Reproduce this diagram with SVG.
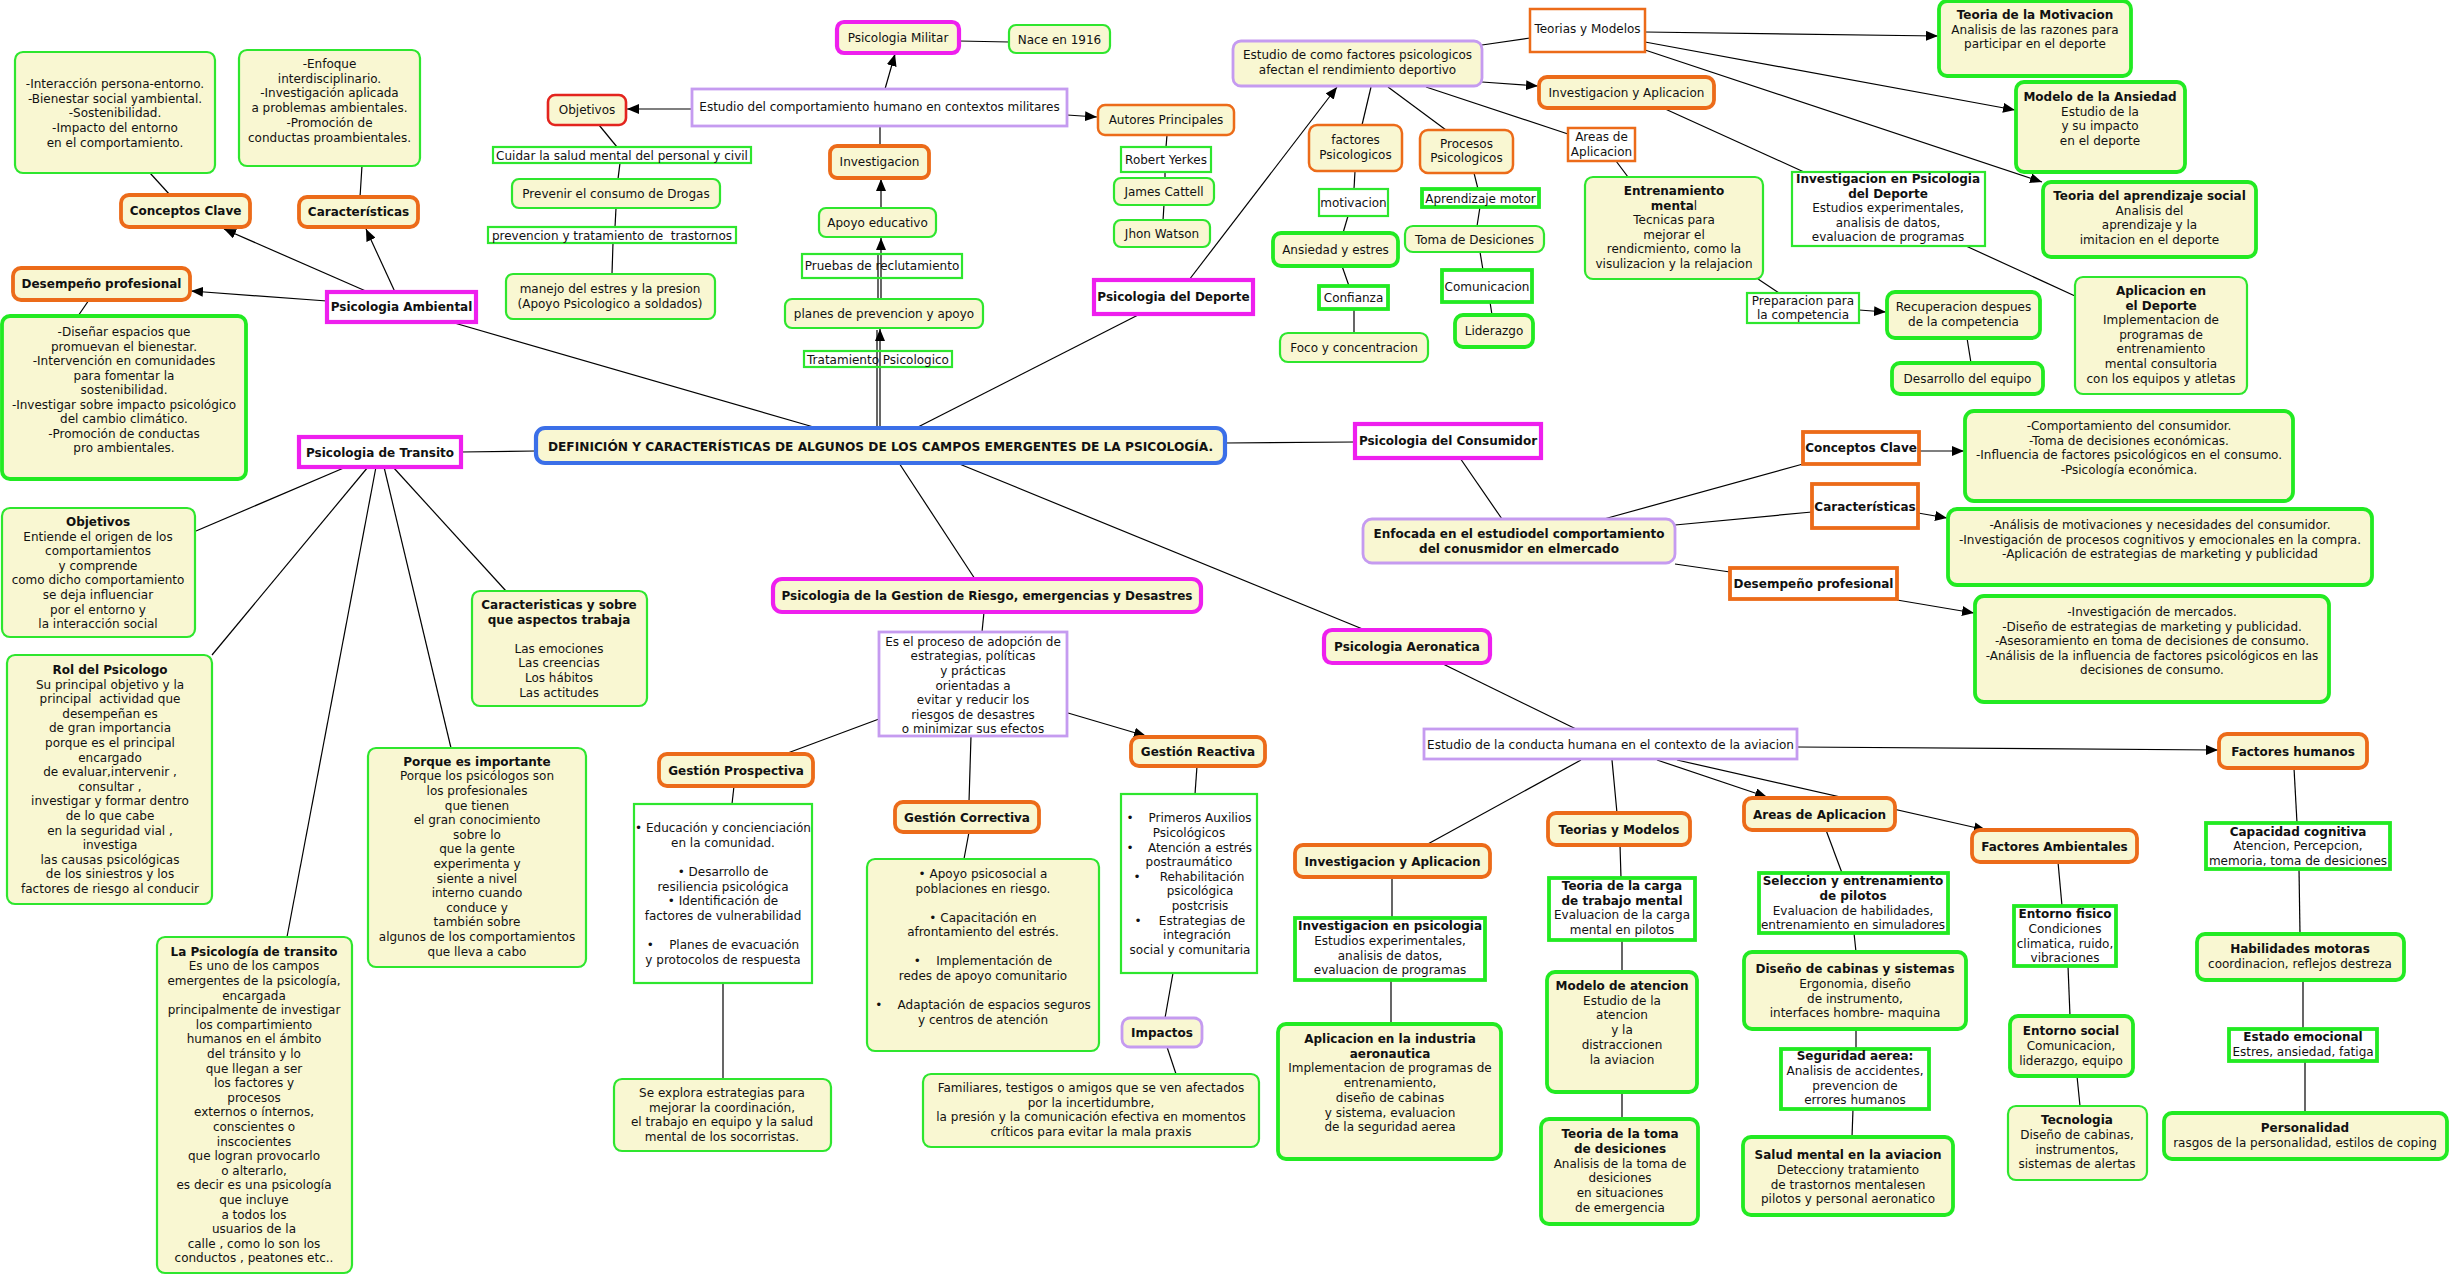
<svg xmlns="http://www.w3.org/2000/svg" width="2449" height="1275" viewBox="0 0 2449 1275">
<style>
.y{fill:#f9f7d2}.w{fill:#fff}.n{fill:none}
.g{stroke:#2ee62e;stroke-width:2.2}.G{stroke:#22ea22;stroke-width:3.8}
.o{stroke:#ec6b19;stroke-width:2.5}.O{stroke:#ec6b19;stroke-width:3.8}
.M{stroke:#ee1fee;stroke-width:4.2}.L{stroke:#c59bf0;stroke-width:2.8}
.B{stroke:#3b6fe8;stroke-width:4.2}.R{stroke:#e3241e;stroke-width:2.6}
text{font-family:"DejaVu Sans",Verdana,sans-serif;font-size:12px;fill:#111;text-anchor:middle}
.b{font-weight:bold}.p{white-space:pre}.tt{font-size:12.2px}
.c{stroke:#000;stroke-width:1.2;fill:none}.a{marker-end:url(#ah)}
</style>
<defs>
<marker id="ah" viewBox="0 0 12 10" refX="12" refY="5" markerWidth="12" markerHeight="10" markerUnits="userSpaceOnUse" orient="auto"><path d="M0,0L12,5L0,10z" fill="#000"/></marker>
</defs>
<rect width="2449" height="1275" fill="#fff"/>
<g id="connectors">
<line class="c a" x1="368" y1="292" x2="224" y2="229"/>
<line class="c a" x1="395" y1="292" x2="366" y2="229"/>
<line class="c a" x1="327" y1="301" x2="191" y2="291"/>
<line class="c" x1="170" y1="195" x2="150" y2="173"/>
<line class="c" x1="360" y1="197" x2="362" y2="166"/>
<line class="c" x1="89" y1="300" x2="78" y2="316"/>
<line class="c" x1="451" y1="322" x2="817" y2="428"/>
<line class="c" x1="461" y1="452" x2="536" y2="451"/>
<line class="c" x1="346" y1="467" x2="196" y2="531"/>
<line class="c" x1="368" y1="467" x2="212" y2="655"/>
<line class="c" x1="393" y1="467" x2="506" y2="591"/>
<line class="c" x1="384" y1="467" x2="451" y2="748"/>
<line class="c" x1="376" y1="467" x2="287" y2="937"/>
<line class="c a" x1="880" y1="428" x2="880" y2="329"/>
<line class="c" x1="877" y1="428" x2="877" y2="330"/>
<line class="c a" x1="881" y1="299" x2="881" y2="238"/>
<line class="c" x1="878" y1="299" x2="878" y2="254"/>
<line class="c a" x1="881" y1="208" x2="881" y2="179"/>
<line class="c" x1="880" y1="126" x2="880" y2="146"/>
<line class="c a" x1="885" y1="89" x2="895" y2="54"/>
<line class="c" x1="959" y1="41" x2="1009" y2="42"/>
<line class="c a" x1="692" y1="109" x2="627" y2="109"/>
<line class="c" x1="599" y1="125" x2="617" y2="147"/>
<line class="c" x1="620" y1="163" x2="618" y2="179"/>
<line class="c" x1="616" y1="208" x2="615" y2="227"/>
<line class="c" x1="613" y1="243" x2="612" y2="274"/>
<line class="c a" x1="1067" y1="115" x2="1097" y2="117"/>
<line class="c" x1="1167" y1="135" x2="1166" y2="147"/>
<line class="c" x1="1165" y1="172" x2="1165" y2="178"/>
<line class="c" x1="1164" y1="205" x2="1163" y2="220"/>
<line class="c" x1="916" y1="428" x2="1140" y2="314"/>
<line class="c a" x1="1189" y1="280" x2="1337" y2="87"/>
<line class="c" x1="1482" y1="45" x2="1530" y2="38"/>
<line class="c a" x1="1482" y1="82" x2="1538" y2="86"/>
<line class="c" x1="1371" y1="87" x2="1362" y2="125"/>
<line class="c" x1="1388" y1="87" x2="1446" y2="130"/>
<line class="c" x1="1426" y1="87" x2="1568" y2="134"/>
<line class="c" x1="1355" y1="171" x2="1354" y2="189"/>
<line class="c" x1="1348" y1="216" x2="1343" y2="233"/>
<line class="c" x1="1342" y1="266" x2="1349" y2="286"/>
<line class="c" x1="1354" y1="309" x2="1354" y2="333"/>
<line class="c" x1="1474" y1="173" x2="1478" y2="189"/>
<line class="c" x1="1480" y1="207" x2="1477" y2="226"/>
<line class="c" x1="1480" y1="252" x2="1483" y2="270"/>
<line class="c" x1="1490" y1="302" x2="1492" y2="315"/>
<line class="c" x1="1616" y1="161" x2="1628" y2="177"/>
<line class="c" x1="1758" y1="279" x2="1779" y2="293"/>
<line class="c a" x1="1859" y1="310" x2="1886" y2="312"/>
<line class="c" x1="1967" y1="338" x2="1971" y2="363"/>
<line class="c" x1="1663" y1="108" x2="1804" y2="172"/>
<line class="c" x1="1966" y1="246" x2="2075" y2="296"/>
<line class="c a" x1="1645" y1="32" x2="1938" y2="36"/>
<line class="c a" x1="1645" y1="42" x2="2015" y2="110"/>
<line class="c a" x1="1645" y1="50" x2="2042" y2="182"/>
<line class="c" x1="1225" y1="443" x2="1355" y2="442"/>
<line class="c" x1="1460" y1="458" x2="1502" y2="519"/>
<line class="c" x1="1604" y1="519" x2="1803" y2="464"/>
<line class="c" x1="1675" y1="525" x2="1812" y2="512"/>
<line class="c" x1="1675" y1="564" x2="1730" y2="572"/>
<line class="c a" x1="1919" y1="451" x2="1964" y2="451"/>
<line class="c a" x1="1918" y1="513" x2="1947" y2="518"/>
<line class="c a" x1="1897" y1="600" x2="1974" y2="613"/>
<line class="c" x1="899" y1="463" x2="975" y2="579"/>
<line class="c" x1="984" y1="612" x2="982" y2="632"/>
<line class="c" x1="879" y1="719" x2="785" y2="754"/>
<line class="c" x1="971" y1="736" x2="969" y2="802"/>
<line class="c a" x1="1068" y1="713" x2="1146" y2="736"/>
<line class="c" x1="734" y1="786" x2="732" y2="804"/>
<line class="c" x1="969" y1="832" x2="964" y2="859"/>
<line class="c" x1="1197" y1="766" x2="1195" y2="794"/>
<line class="c" x1="723" y1="983" x2="723" y2="1079"/>
<line class="c" x1="1173" y1="973" x2="1165" y2="1018"/>
<line class="c" x1="1167" y1="1047" x2="1176" y2="1074"/>
<line class="c" x1="957" y1="463" x2="1365" y2="630"/>
<line class="c" x1="1441" y1="663" x2="1576" y2="729"/>
<line class="c a" x1="1797" y1="747" x2="2218" y2="750"/>
<line class="c" x1="1581" y1="760" x2="1426" y2="845"/>
<line class="c" x1="1612" y1="760" x2="1617" y2="813"/>
<line class="c a" x1="1657" y1="760" x2="1767" y2="797"/>
<line class="c a" x1="1677" y1="760" x2="1986" y2="830"/>
<line class="c" x1="1392" y1="877" x2="1392" y2="918"/>
<line class="c" x1="1391" y1="980" x2="1391" y2="1024"/>
<line class="c" x1="1620" y1="845" x2="1621" y2="878"/>
<line class="c" x1="1622" y1="940" x2="1622" y2="972"/>
<line class="c" x1="1622" y1="1092" x2="1622" y2="1119"/>
<line class="c" x1="1826" y1="830" x2="1842" y2="873"/>
<line class="c" x1="1854" y1="933" x2="1856" y2="952"/>
<line class="c" x1="1856" y1="1029" x2="1856" y2="1049"/>
<line class="c" x1="1853" y1="1109" x2="1852" y2="1137"/>
<line class="c" x1="2058" y1="862" x2="2062" y2="906"/>
<line class="c" x1="2068" y1="966" x2="2070" y2="1016"/>
<line class="c" x1="2077" y1="1076" x2="2080" y2="1106"/>
<line class="c" x1="2294" y1="768" x2="2297" y2="823"/>
<line class="c" x1="2299" y1="869" x2="2300" y2="934"/>
<line class="c" x1="2303" y1="980" x2="2303" y2="1029"/>
<line class="c" x1="2305" y1="1061" x2="2305" y2="1113"/>
</g>

<!-- Ambiental -->
<g id="amb_cc_txt"><rect class="y g" x="15" y="52" width="200" height="121" rx="8"/><text x="115" y="88"><tspan x="115">-Interacción persona-entorno.</tspan><tspan x="115" dy="14.7">-Bienestar social yambiental.</tspan><tspan x="115" dy="14.7">-Sostenibilidad.</tspan><tspan x="115" dy="14.7">-Impacto del entorno</tspan><tspan x="115" dy="14.7">en el comportamiento.</tspan></text></g>
<g id="amb_car_txt"><rect class="y g" x="239" y="50" width="181" height="116" rx="8"/><text x="329.5" y="68"><tspan x="329.5">-Enfoque</tspan><tspan x="329.5" dy="14.7">interdisciplinario.</tspan><tspan x="329.5" dy="14.7">-Investigación aplicada</tspan><tspan x="329.5" dy="14.7">a problemas ambientales.</tspan><tspan x="329.5" dy="14.7">-Promoción de</tspan><tspan x="329.5" dy="14.7">conductas proambientales.</tspan></text></g>
<g id="amb_cc"><rect class="y O" x="121" y="195" width="129" height="32" rx="8"/><text class="b" x="185.5" y="215">Conceptos Clave</text></g>
<g id="amb_car"><rect class="y O" x="299" y="197" width="119" height="30" rx="8"/><text class="b" x="358.5" y="216">Características</text></g>
<g id="amb_des"><rect class="y O" x="13" y="268" width="177" height="32" rx="8"/><text class="b" x="101.5" y="288">Desempeño profesional</text></g>
<g id="amb"><rect class="w M" x="327" y="292" width="149" height="30"/><text class="b" x="401.5" y="311">Psicologia Ambiental</text></g>
<g id="amb_des_txt"><rect class="y G" x="2" y="316" width="244" height="163" rx="8"/><text x="124" y="336"><tspan x="124">-Diseñar espacios que</tspan><tspan x="124" dy="14.5">promuevan el bienestar.</tspan><tspan x="124" dy="14.5">-Intervención en comunidades</tspan><tspan x="124" dy="14.5">para fomentar la</tspan><tspan x="124" dy="14.5">sostenibilidad.</tspan><tspan x="124" dy="14.5">-Investigar sobre impacto psicológico</tspan><tspan x="124" dy="14.5">del cambio climático.</tspan><tspan x="124" dy="14.5">-Promoción de conductas</tspan><tspan x="124" dy="14.5">pro ambientales.</tspan></text></g>

<!-- Militar -->
<g id="mil_obj"><rect class="y R" x="548" y="95" width="78" height="30" rx="7"/><text x="587" y="114">Objetivos</text></g>
<g id="mil_cuidar"><rect class="w g" x="493" y="147" width="258" height="16"/><text x="622" y="159.5">Cuidar la salud mental del personal y civil</text></g>
<g id="mil_prev"><rect class="y g" x="512" y="179" width="208" height="29" rx="7"/><text x="616" y="198">Prevenir el consumo de Drogas</text></g>
<g id="mil_prevtrat"><rect class="w g" x="488" y="227" width="248" height="16"/><text class="p" x="612" y="239.5">prevencion y tratamiento de  trastornos</text></g>
<g id="mil_manejo"><rect class="y g" x="506" y="274" width="209" height="45" rx="7"/><text x="610" y="293"><tspan x="610">manejo del estres y la presion</tspan><tspan x="610" dy="14.7">(Apoyo Psicologico a soldados)</tspan></text></g>
<g id="mil"><rect class="y M" x="837" y="22" width="122" height="31" rx="7"/><text x="898" y="42">Psicologia Militar</text></g>
<g id="mil_nace"><rect class="y g" x="1009" y="25" width="101" height="28" rx="7"/><text x="1059.5" y="43.5">Nace en 1916</text></g>
<g id="mil_est"><rect class="w L" x="692" y="89" width="375" height="37"/><text x="879.5" y="111">Estudio del comportamiento humano en contextos militares</text></g>
<g id="mil_aut"><rect class="y o" x="1098" y="105" width="136" height="30" rx="7"/><text x="1166" y="124">Autores Principales</text></g>
<g id="mil_rob"><rect class="w g" x="1121" y="147" width="90" height="25"/><text x="1166" y="164">Robert Yerkes</text></g>
<g id="mil_jam"><rect class="y g" x="1114" y="178" width="100" height="27" rx="7"/><text x="1164" y="196">James Cattell</text></g>
<g id="mil_jho"><rect class="y g" x="1114" y="220" width="96" height="27" rx="7"/><text x="1162" y="238">Jhon Watson</text></g>
<g id="mil_inv"><rect class="y O" x="830" y="146" width="99" height="32" rx="7"/><text x="879.5" y="166">Investigacion</text></g>
<g id="mil_apo"><rect class="y g" x="819" y="208" width="117" height="29" rx="7"/><text x="877.5" y="227">Apoyo educativo</text></g>
<g id="mil_pru"><rect class="n g" x="802" y="254" width="160" height="24"/><text x="882" y="270">Pruebas de reclutamiento</text></g>
<g id="mil_pla"><rect class="y g" x="785" y="299" width="198" height="29" rx="7"/><text x="884" y="318">planes de prevencion y apoyo</text></g>
<g id="mil_tra"><rect class="n g" x="804" y="351" width="148" height="16"/><text x="878" y="363.5">Tratamiento Psicologico</text></g>

<!-- Deporte -->
<g id="dep"><rect class="w M" x="1094" y="280" width="159" height="34"/><text class="b" x="1173.5" y="301">Psicologia del Deporte</text></g>
<g id="dep_est"><rect class="y L" x="1233" y="41" width="249" height="45" rx="8"/><text x="1357.5" y="59"><tspan x="1357.5">Estudio de como factores psicologicos</tspan><tspan x="1357.5" dy="14.7">afectan el rendimiento deportivo</tspan></text></g>
<g id="dep_teo"><rect class="w o" x="1530" y="9" width="115" height="43"/><text x="1587.5" y="33">Teorias y Modelos</text></g>
<g id="dep_inv"><rect class="y O" x="1539" y="77" width="175" height="31" rx="8"/><text x="1626.5" y="96.5">Investigacion y Aplicacion</text></g>
<g id="dep_fac"><rect class="y o" x="1309" y="125" width="93" height="46" rx="8"/><text x="1355.5" y="144"><tspan x="1355.5">factores</tspan><tspan x="1355.5" dy="14.7">Psicologicos</tspan></text></g>
<g id="dep_pro"><rect class="y o" x="1420" y="130" width="93" height="43" rx="8"/><text x="1466.5" y="147.7"><tspan x="1466.5">Procesos</tspan><tspan x="1466.5" dy="14.7">Psicologicos</tspan></text></g>
<g id="dep_are"><rect class="w o" x="1568" y="128" width="67" height="33"/><text x="1601.5" y="141"><tspan x="1601.5">Areas de</tspan><tspan x="1601.5" dy="14.7">Aplicacion</tspan></text></g>
<g id="dep_mot"><rect class="w g" x="1319" y="189" width="69" height="27"/><text x="1353.5" y="207">motivacion</text></g>
<g id="dep_ans"><rect class="y G" x="1273" y="233" width="125" height="33" rx="8"/><text x="1335.5" y="254">Ansiedad y estres</text></g>
<g id="dep_con"><rect class="w G" x="1319" y="286" width="69" height="23"/><text x="1353.5" y="302">Confianza</text></g>
<g id="dep_foc"><rect class="y g" x="1280" y="333" width="148" height="29" rx="8"/><text x="1354" y="352">Foco y concentracion</text></g>
<g id="dep_apr"><rect class="w G" x="1422" y="189" width="117" height="18"/><text x="1480.5" y="202.5">Aprendizaje motor</text></g>
<g id="dep_tom"><rect class="y g" x="1405" y="226" width="139" height="26" rx="8"/><text x="1474.5" y="243.5">Toma de Desiciones</text></g>
<g id="dep_com"><rect class="w G" x="1442" y="270" width="90" height="32"/><text x="1487" y="290.5">Comunicacion</text></g>
<g id="dep_lid"><rect class="y G" x="1455" y="315" width="78" height="32" rx="8"/><text x="1494" y="335">Liderazgo</text></g>
<g id="dep_ent"><rect class="y g" x="1585" y="177" width="178" height="102" rx="8"/><text x="1674" y="195"><tspan x="1674" class="b">Entrenamiento</tspan><tspan x="1674" dy="14.6"><tspan class="b">menta</tspan>l</tspan><tspan x="1674" dy="14.6">Tecnicas para</tspan><tspan x="1674" dy="14.6">mejorar el</tspan><tspan x="1674" dy="14.6">rendicmiento, como la</tspan><tspan x="1674" dy="14.6">visulizacion y la relajacion</tspan></text></g>
<g id="dep_ipd"><rect class="w g" x="1792" y="172" width="193" height="74"/><text x="1888" y="183"><tspan x="1888" class="b">Investigacion en Psicologia</tspan><tspan x="1888" dy="14.6" class="b">del Deporte</tspan><tspan x="1888" dy="14.6">Estudios experimentales,</tspan><tspan x="1888" dy="14.6">analisis de datos,</tspan><tspan x="1888" dy="14.6">evaluacion de programas</tspan></text></g>
<g id="dep_prep"><rect class="w g" x="1747" y="293" width="112" height="30"/><text x="1803" y="304.5"><tspan x="1803">Preparacion para</tspan><tspan x="1803" dy="14.3">la competencia</tspan></text></g>
<g id="dep_tmot"><rect class="y G" x="1939" y="1" width="192" height="75" rx="8"/><text x="2035" y="19"><tspan x="2035" class="b">Teoria de la Motivacion</tspan><tspan x="2035" dy="14.7">Analisis de las razones para</tspan><tspan x="2035" dy="14.7">participar en el deporte</tspan></text></g>
<g id="dep_tans"><rect class="y G" x="2016" y="82" width="169" height="90" rx="8"/><text x="2100" y="101"><tspan x="2100" class="b">Modelo de la Ansiedad</tspan><tspan x="2100" dy="14.6">Estudio de la</tspan><tspan x="2100" dy="14.6">y su impacto</tspan><tspan x="2100" dy="14.6">en el deporte</tspan></text></g>
<g id="dep_tapr"><rect class="y G" x="2043" y="182" width="213" height="75" rx="8"/><text x="2149.5" y="200"><tspan x="2149.5" class="b">Teoria del aprendizaje social</tspan><tspan x="2149.5" dy="14.6">Analisis del</tspan><tspan x="2149.5" dy="14.6">aprendizaje y la</tspan><tspan x="2149.5" dy="14.6">imitacion en el deporte</tspan></text></g>
<g id="dep_apl"><rect class="y g" x="2075" y="277" width="172" height="117" rx="8"/><text x="2161" y="295"><tspan x="2161" class="b">Aplicacion en</tspan><tspan x="2161" dy="14.6" class="b">el Deporte</tspan><tspan x="2161" dy="14.6">Implementacion de</tspan><tspan x="2161" dy="14.6">programas de</tspan><tspan x="2161" dy="14.6">entrenamiento</tspan><tspan x="2161" dy="14.6">mental consultoria</tspan><tspan x="2161" dy="14.6">con los equipos y atletas</tspan></text></g>
<g id="dep_rec"><rect class="y G" x="1887" y="292" width="153" height="46" rx="8"/><text x="1963.5" y="311"><tspan x="1963.5">Recuperacion despues</tspan><tspan x="1963.5" dy="14.7">de la competencia</tspan></text></g>
<g id="dep_des"><rect class="y G" x="1892" y="363" width="151" height="31" rx="8"/><text x="1967.5" y="383">Desarrollo del equipo</text></g>

<!-- Main -->
<g id="main"><rect class="y B" x="536" y="428" width="689" height="35" rx="9"/><text class="b tt" x="880.5" y="451">DEFINICIÓN Y CARACTERÍSTICAS DE ALGUNOS DE LOS CAMPOS EMERGENTES DE LA PSICOLOGÍA.</text></g>

<!-- Consumidor -->
<g id="con"><rect class="w M" x="1355" y="424" width="186" height="34"/><text class="b" x="1448" y="445">Psicologia del Consumidor</text></g>
<g id="con_enf"><rect class="y L" x="1363" y="519" width="312" height="44" rx="9"/><text class="b" x="1519" y="538"><tspan x="1519">Enfocada en el estudiodel comportamiento</tspan><tspan x="1519" dy="14.7">del conusmidor en elmercado</tspan></text></g>
<g id="con_cc"><rect class="w O" x="1803" y="432" width="116" height="32"/><text class="b" x="1861" y="452">Conceptos Clave</text></g>
<g id="con_car"><rect class="w O" x="1812" y="484" width="106" height="44"/><text class="b" x="1865" y="511">Características</text></g>
<g id="con_des"><rect class="w O" x="1730" y="568" width="167" height="31"/><text class="b" x="1813.5" y="588">Desempeño profesional</text></g>
<g id="con_cc_t"><rect class="y G" x="1965" y="411" width="328" height="90" rx="9"/><text x="2129" y="430"><tspan x="2129">-Comportamiento del consumidor.</tspan><tspan x="2129" dy="14.7">-Toma de decisiones económicas.</tspan><tspan x="2129" dy="14.7">-Influencia de factores psicológicos en el consumo.</tspan><tspan x="2129" dy="14.7">-Psicología económica.</tspan></text></g>
<g id="con_car_t"><rect class="y G" x="1948" y="509" width="424" height="76" rx="9"/><text x="2160" y="529"><tspan x="2160">-Análisis de motivaciones y necesidades del consumidor.</tspan><tspan x="2160" dy="14.7">-Investigación de procesos cognitivos y emocionales en la compra.</tspan><tspan x="2160" dy="14.7">-Aplicación de estrategias de marketing y publicidad</tspan></text></g>
<g id="con_des_t"><rect class="y G" x="1975" y="596" width="354" height="106" rx="9"/><text x="2152" y="616"><tspan x="2152">-Investigación de mercados.</tspan><tspan x="2152" dy="14.6">-Diseño de estrategias de marketing y publicidad.</tspan><tspan x="2152" dy="14.6">-Asesoramiento en toma de decisiones de consumo.</tspan><tspan x="2152" dy="14.6">-Análisis de la influencia de factores psicológicos en las</tspan><tspan x="2152" dy="14.6">decisiones de consumo.</tspan></text></g>

<!-- Aeronautica -->
<g id="aer"><rect class="y M" x="1324" y="630" width="166" height="33" rx="8"/><text class="b" x="1407" y="651">Psicologia Aeronatica</text></g>
<g id="av_est"><rect class="w L" x="1424" y="729" width="373" height="30"/><text x="1610.5" y="748.5">Estudio de la conducta humana en el contexto de la aviacion</text></g>
<g id="av_fh"><rect class="y O" x="2219" y="734" width="148" height="34" rx="8"/><text class="b" x="2293" y="755.5">Factores humanos</text></g>
<g id="av_inv"><rect class="y O" x="1295" y="845" width="195" height="32" rx="8"/><text class="b" x="1392.5" y="865.5">Investigacion y Aplicacion</text></g>
<g id="av_teo"><rect class="y O" x="1548" y="813" width="142" height="32" rx="8"/><text class="b" x="1619" y="833.5">Teorias y Modelos</text></g>
<g id="av_are"><rect class="y O" x="1744" y="798" width="151" height="32" rx="8"/><text class="b" x="1819.5" y="818.5">Areas de Aplicacion</text></g>
<g id="av_fa"><rect class="y O" x="1972" y="830" width="165" height="32" rx="8"/><text class="b" x="2054.5" y="850.5">Factores Ambientales</text></g>
<g id="av_ip"><rect class="w G" x="1295" y="918" width="190" height="62"/><text x="1390" y="930"><tspan x="1390" class="b">Investigacion en psicologia</tspan><tspan x="1390" dy="14.8">Estudios experimentales,</tspan><tspan x="1390" dy="14.8">analisis de datos,</tspan><tspan x="1390" dy="14.8">evaluacion de programas</tspan></text></g>
<g id="av_ai"><rect class="y G" x="1278" y="1024" width="223" height="135" rx="8"/><text x="1390" y="1043"><tspan x="1390" class="b">Aplicacion en la industria</tspan><tspan x="1390" dy="14.7" class="b">aeronautica</tspan><tspan x="1390" dy="14.7">Implementacion de programas de</tspan><tspan x="1390" dy="14.7">entrenamiento,</tspan><tspan x="1390" dy="14.7">diseño de cabinas</tspan><tspan x="1390" dy="14.7">y sistema, evaluacion</tspan><tspan x="1390" dy="14.7">de la seguridad aerea</tspan></text></g>
<g id="av_carga"><rect class="w G" x="1549" y="878" width="146" height="62"/><text x="1622" y="890"><tspan x="1622" class="b">Teoria de la carga</tspan><tspan x="1622" dy="14.7" class="b">de trabajo mental</tspan><tspan x="1622" dy="14.7">Evaluacion de la carga</tspan><tspan x="1622" dy="14.7">mental en pilotos</tspan></text></g>
<g id="av_mod"><rect class="y G" x="1547" y="972" width="150" height="120" rx="8"/><text x="1622" y="990"><tspan x="1622" class="b">Modelo de atencion</tspan><tspan x="1622" dy="14.7">Estudio de la</tspan><tspan x="1622" dy="14.7">atencion</tspan><tspan x="1622" dy="14.7">y la</tspan><tspan x="1622" dy="14.7">distraccionen</tspan><tspan x="1622" dy="14.7">la aviacion</tspan></text></g>
<g id="av_toma"><rect class="y G" x="1541" y="1119" width="157" height="105" rx="8"/><text x="1620" y="1138"><tspan x="1620" class="b">Teoria de la toma</tspan><tspan x="1620" dy="14.8" class="b">de desiciones</tspan><tspan x="1620" dy="14.8">Analisis de la toma de</tspan><tspan x="1620" dy="14.8">desiciones</tspan><tspan x="1620" dy="14.8">en situaciones</tspan><tspan x="1620" dy="14.8">de emergencia</tspan></text></g>
<g id="av_sel"><rect class="w G" x="1759" y="873" width="189" height="60"/><text x="1853" y="885"><tspan x="1853" class="b">Seleccion y entrenamiento</tspan><tspan x="1853" dy="14.8" class="b">de pilotos</tspan><tspan x="1853" dy="14.8">Evaluacion de habilidades,</tspan><tspan x="1853" dy="14.8">entrenamiento en simuladores</tspan></text></g>
<g id="av_dis"><rect class="y G" x="1744" y="952" width="222" height="77" rx="8"/><text x="1855" y="973"><tspan x="1855" class="b">Diseño de cabinas y sistemas</tspan><tspan x="1855" dy="14.8">Ergonomia, diseño</tspan><tspan x="1855" dy="14.8">de instrumento,</tspan><tspan x="1855" dy="14.8">interfaces hombre- maquina</tspan></text></g>
<g id="av_seg"><rect class="w G" x="1781" y="1049" width="148" height="60"/><text x="1855" y="1060"><tspan x="1855" class="b">Seguridad aerea:</tspan><tspan x="1855" dy="14.8">Analisis de accidentes,</tspan><tspan x="1855" dy="14.8">prevencion de</tspan><tspan x="1855" dy="14.8">errores humanos</tspan></text></g>
<g id="av_sal"><rect class="y G" x="1743" y="1137" width="210" height="78" rx="8"/><text x="1848" y="1159"><tspan x="1848" class="b">Salud mental en la aviacion</tspan><tspan x="1848" dy="14.8">Detecciony tratamiento</tspan><tspan x="1848" dy="14.8">de trastornos mentalesen</tspan><tspan x="1848" dy="14.8">pilotos y personal aeronatico</tspan></text></g>
<g id="av_fis"><rect class="w G" x="2014" y="906" width="102" height="60"/><text x="2065" y="918"><tspan x="2065" class="b">Entorno fisico</tspan><tspan x="2065" dy="14.8">Condiciones</tspan><tspan x="2065" dy="14.8">climatica, ruido,</tspan><tspan x="2065" dy="14.8">vibraciones</tspan></text></g>
<g id="av_soc"><rect class="y G" x="2010" y="1016" width="123" height="60" rx="8"/><text x="2071" y="1035"><tspan x="2071" class="b">Entorno social</tspan><tspan x="2071" dy="14.8">Comunicacion,</tspan><tspan x="2071" dy="14.8">liderazgo, equipo</tspan></text></g>
<g id="av_tec"><rect class="y g" x="2008" y="1106" width="139" height="74" rx="8"/><text x="2077" y="1124"><tspan x="2077" class="b">Tecnologia</tspan><tspan x="2077" dy="14.8">Diseño de cabinas,</tspan><tspan x="2077" dy="14.8">instrumentos,</tspan><tspan x="2077" dy="14.8">sistemas de alertas</tspan></text></g>
<g id="av_cap"><rect class="w G" x="2206" y="823" width="184" height="46"/><text x="2298" y="835.5"><tspan x="2298" class="b">Capacidad cognitiva</tspan><tspan x="2298" dy="14.6">Atencion, Percepcion,</tspan><tspan x="2298" dy="14.6">memoria, toma de desiciones</tspan></text></g>
<g id="av_hab"><rect class="y G" x="2197" y="934" width="207" height="46" rx="8"/><text x="2300" y="953"><tspan x="2300" class="b">Habilidades motoras</tspan><tspan x="2300" dy="14.8">coordinacion, reflejos destreza</tspan></text></g>
<g id="av_emo"><rect class="w G" x="2229" y="1029" width="148" height="32"/><text x="2303" y="1041"><tspan x="2303" class="b">Estado emocional</tspan><tspan x="2303" dy="14.8">Estres, ansiedad, fatiga</tspan></text></g>
<g id="av_per"><rect class="y G" x="2164" y="1113" width="283" height="46" rx="8"/><text x="2305" y="1132"><tspan x="2305" class="b">Personalidad</tspan><tspan x="2305" dy="14.8">rasgos de la personalidad, estilos de coping</tspan></text></g>

<!-- Riesgo -->
<g id="rie"><rect class="y M" x="773" y="579" width="428" height="33" rx="9"/><text class="b" x="987" y="600">Psicologia de la Gestion de Riesgo, emergencias y Desastres</text></g>
<g id="rie_es"><rect class="w L" x="879" y="632" width="188" height="104"/><text x="973" y="645.7"><tspan x="973">Es el proceso de adopción de</tspan><tspan x="973" dy="14.6">estrategias, políticas</tspan><tspan x="973" dy="14.6">y prácticas</tspan><tspan x="973" dy="14.6">orientadas a</tspan><tspan x="973" dy="14.6">evitar y reducir los</tspan><tspan x="973" dy="14.6">riesgos de desastres</tspan><tspan x="973" dy="14.6">o minimizar sus efectos</tspan></text></g>
<g id="rie_pro"><rect class="y O" x="659" y="754" width="154" height="32" rx="8"/><text class="b" x="736" y="774.5">Gestión Prospectiva</text></g>
<g id="rie_cor"><rect class="y O" x="895" y="802" width="144" height="30" rx="8"/><text class="b" x="967" y="821.5">Gestión Correctiva</text></g>
<g id="rie_rea"><rect class="y O" x="1131" y="737" width="134" height="29" rx="8"/><text class="b" x="1198" y="755.5">Gestión Reactiva</text></g>
<g id="rie_pro_t"><rect class="w g" x="634" y="804" width="178" height="179"/><text class="p" x="723" y="832.3"><tspan x="723">• Educación y concienciación</tspan><tspan x="723" dy="14.4">en la comunidad.</tspan><tspan x="723" dy="29.6">• Desarrollo de</tspan><tspan x="723" dy="14.4">resiliencia psicológica</tspan><tspan x="723" dy="14.6">• Identificación de</tspan><tspan x="723" dy="14.7">factores de vulnerabilidad</tspan><tspan x="723" dy="29">•    Planes de evacuación</tspan><tspan x="723" dy="14.7">y protocolos de respuesta</tspan></text></g>
<g id="rie_cor_t"><rect class="y g" x="867" y="859" width="232" height="192" rx="8"/><text class="p" x="983" y="878"><tspan x="983">• Apoyo psicosocial a</tspan><tspan x="983" dy="14.7">poblaciones en riesgo.</tspan><tspan x="983" dy="29">• Capacitación en</tspan><tspan x="983" dy="14.6">afrontamiento del estrés.</tspan><tspan x="983" dy="29">•    Implementación de</tspan><tspan x="983" dy="14.7">redes de apoyo comunitario</tspan><tspan x="983" dy="29">•    Adaptación de espacios seguros</tspan><tspan x="983" dy="14.7">y centros de atención</tspan></text></g>
<g id="rie_rea_t"><rect class="w g" x="1121" y="794" width="136" height="179"/><text x="1200" y="822.3"><tspan x="1200">Primeros Auxilios</tspan><tspan x="1189" dy="14.6">Psicológicos</tspan><tspan x="1200" dy="14.6">Atención a estrés</tspan><tspan x="1189" dy="14.6">postraumático</tspan><tspan x="1202" dy="14.6">Rehabilitación</tspan><tspan x="1200" dy="14.6">psicológica</tspan><tspan x="1200" dy="14.6">postcrisis</tspan><tspan x="1202" dy="14.6">Estrategias de</tspan><tspan x="1197" dy="14.6">integración</tspan><tspan x="1190" dy="14.6">social y comunitaria</tspan></text><text x="1130" y="822.3">•</text><text x="1130" y="851.5">•</text><text x="1137" y="880.7">•</text><text x="1138" y="924.5">•</text></g>
<g id="rie_imp"><rect class="y L" x="1122" y="1018" width="80" height="29" rx="8"/><text class="b" x="1162" y="1037">Impactos</text></g>
<g id="rie_fam"><rect class="y g" x="923" y="1074" width="336" height="73" rx="8"/><text x="1091" y="1092"><tspan x="1091">Familiares, testigos o amigos que se ven afectados</tspan><tspan x="1091" dy="14.7">por la incertidumbre,</tspan><tspan x="1091" dy="14.7">la presión y la comunicación efectiva en momentos</tspan><tspan x="1091" dy="14.7">críticos para evitar la mala praxis</tspan></text></g>
<g id="rie_exp"><rect class="y g" x="614" y="1079" width="217" height="72" rx="8"/><text x="722" y="1097.3"><tspan x="722">Se explora estrategias para</tspan><tspan x="722" dy="14.5">mejorar la coordinación,</tspan><tspan x="722" dy="14.5">el trabajo en equipo y la salud</tspan><tspan x="722" dy="14.5">mental de los socorristas.</tspan></text></g>

<!-- Transito -->
<g id="tra"><rect class="w M" x="299" y="437" width="162" height="30"/><text class="b" x="380" y="457">Psicologia de Transito</text></g>
<g id="tra_obj"><rect class="y g" x="2" y="508" width="193" height="129" rx="8"/><text x="98" y="526"><tspan x="98" class="b">Objetivos</tspan><tspan x="98" dy="14.6">Entiende el origen de los</tspan><tspan x="98" dy="14.6">comportamientos</tspan><tspan x="98" dy="14.6">y comprende</tspan><tspan x="98" dy="14.6">como dicho comportamiento</tspan><tspan x="98" dy="14.6">se deja influenciar</tspan><tspan x="98" dy="14.6">por el entorno y</tspan><tspan x="98" dy="14.6">la interacción social</tspan></text></g>
<g id="tra_rol"><rect class="y g" x="7" y="655" width="205" height="249" rx="8"/><text class="p" x="110" y="674"><tspan x="110" class="b">Rol del Psicologo</tspan><tspan x="110" dy="14.6">Su principal objetivo y la</tspan><tspan x="110" dy="14.6">principal  actividad que</tspan><tspan x="110" dy="14.6">desempeñan es</tspan><tspan x="110" dy="14.6">de gran importancia</tspan><tspan x="110" dy="14.6">porque es el principal</tspan><tspan x="110" dy="14.6">encargado</tspan><tspan x="110" dy="14.6">de evaluar,intervenir ,</tspan><tspan x="110" dy="14.6">consultar ,</tspan><tspan x="110" dy="14.6">investigar y formar dentro</tspan><tspan x="110" dy="14.6">de lo que cabe</tspan><tspan x="110" dy="14.6">en la seguridad vial ,</tspan><tspan x="110" dy="14.6">investiga</tspan><tspan x="110" dy="14.6">las causas psicológicas</tspan><tspan x="110" dy="14.6">de los siniestros y los</tspan><tspan x="110" dy="14.6">factores de riesgo al conducir</tspan></text></g>
<g id="tra_car"><rect class="y g" x="472" y="591" width="175" height="115" rx="8"/><text x="559" y="609"><tspan x="559" class="b">Caracteristicas y sobre</tspan><tspan x="559" dy="14.7" class="b">que aspectos trabaja</tspan><tspan x="559" dy="29">Las emociones</tspan><tspan x="559" dy="14.6">Las creencias</tspan><tspan x="559" dy="14.6">Los hábitos</tspan><tspan x="559" dy="14.6">Las actitudes</tspan></text></g>
<g id="tra_por"><rect class="y g" x="368" y="748" width="218" height="219" rx="8"/><text x="477" y="765.7"><tspan x="477" class="b">Porque es importante</tspan><tspan x="477" dy="14.6">Porque los psicólogos son</tspan><tspan x="477" dy="14.6">los profesionales</tspan><tspan x="477" dy="14.6">que tienen</tspan><tspan x="477" dy="14.6">el gran conocimiento</tspan><tspan x="477" dy="14.6">sobre lo</tspan><tspan x="477" dy="14.6">que la gente</tspan><tspan x="477" dy="14.6">experimenta y</tspan><tspan x="477" dy="14.6">siente a nivel</tspan><tspan x="477" dy="14.6">interno cuando</tspan><tspan x="477" dy="14.6">conduce y</tspan><tspan x="477" dy="14.6">también sobre</tspan><tspan x="477" dy="14.6">algunos de los comportamientos</tspan><tspan x="477" dy="14.6">que lleva a cabo</tspan></text></g>
<g id="tra_la"><rect class="y g" x="157" y="937" width="195" height="336" rx="8"/><text x="254" y="955.7"><tspan x="254" class="b">La Psicología de transito</tspan><tspan x="254" dy="14.6">Es uno de los campos</tspan><tspan x="254" dy="14.6">emergentes de la psicología,</tspan><tspan x="254" dy="14.6">encargada</tspan><tspan x="254" dy="14.6">principalmente de investigar</tspan><tspan x="254" dy="14.6">los compartimiento</tspan><tspan x="254" dy="14.6">humanos en el ámbito</tspan><tspan x="254" dy="14.6">del tránsito y lo</tspan><tspan x="254" dy="14.6">que llegan a ser</tspan><tspan x="254" dy="14.6">los factores y</tspan><tspan x="254" dy="14.6">procesos</tspan><tspan x="254" dy="14.6">externos o ínternos,</tspan><tspan x="254" dy="14.6">conscientes o</tspan><tspan x="254" dy="14.6">inscocientes</tspan><tspan x="254" dy="14.6">que logran provocarlo</tspan><tspan x="254" dy="14.6">o alterarlo,</tspan><tspan x="254" dy="14.6">es decir es una psicología</tspan><tspan x="254" dy="14.6">que incluye</tspan><tspan x="254" dy="14.6">a todos los</tspan><tspan x="254" dy="14.6">usuarios de la</tspan><tspan x="254" dy="14.6">calle , como lo son los</tspan><tspan x="254" dy="14.6">conductos , peatones etc..</tspan></text></g>
</svg>
